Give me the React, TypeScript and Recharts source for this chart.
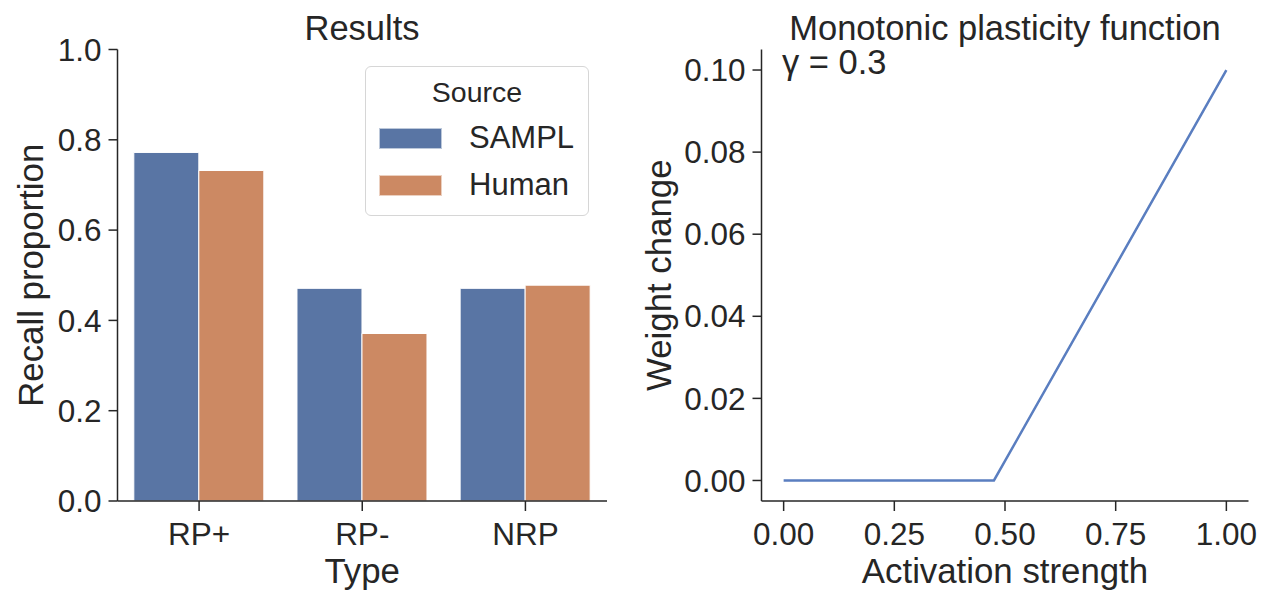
import {
  BarChart,
  Bar,
  LineChart,
  Line,
  XAxis,
  YAxis,
  Legend,
} from "recharts";

const FONT = '"Liberation Sans", Arial, sans-serif';
const INK = "#262626";
const SAMPL_COLOR = "#5975a4";
const HUMAN_COLOR = "#cc8963";
const LINE_COLOR = "#5a7ec0";

// left panel: recall by item type
const types = ["RP+", "RP-", "NRP"];
const samplRecall = [0.772, 0.471, 0.471];
const humanRecall = [0.732, 0.371, 0.478];
const recallTicks = [0, 0.2, 0.4, 0.6, 0.8, 1.0];

// right panel: plasticity curve
const activation = [0, 0.475, 1.0];
const weightChange = [0, 0, 0.1];
const activationTicks = [0, 0.25, 0.5, 0.75, 1.0];
const weightTicks = [0, 0.02, 0.04, 0.06, 0.08, 0.1];

const barData = types.map((t, i) => ({
  type: t,
  SAMPL: samplRecall[i],
  Human: humanRecall[i],
}));

const lineData = activation.map((a, i) => ({ x: a, y: weightChange[i] }));

const tickStyle = { fontSize: 31.5, fill: INK, fontFamily: FONT };
const labelStyle = { fontSize: 34.8, fill: INK, fontFamily: FONT };

function SourceLegend() {
  const items = [
    { name: "SAMPL", color: SAMPL_COLOR, top: 61 },
    { name: "Human", color: HUMAN_COLOR, top: 108 },
  ];
  return (
    <div
      style={{
        position: "relative",
        width: 222,
        height: 148,
        border: "1px solid #d6d6d6",
        borderRadius: 6,
        background: "#fff",
        fontFamily: FONT,
        color: INK,
      }}
    >
      <div
        style={{
          position: "absolute",
          left: 0,
          width: 222,
          top: 9,
          textAlign: "center",
          fontSize: 28.5,
          lineHeight: "32px",
        }}
      >
        Source
      </div>
      {items.map((it) => (
        <div key={it.name}>
          <div
            style={{
              position: "absolute",
              left: 13,
              top: it.top,
              width: 63,
              height: 21,
              background: it.color,
              boxSizing: "border-box",
              border: "1px solid rgba(255,255,255,0.6)",
            }}
          />
          <div
            style={{
              position: "absolute",
              left: 103,
              top: it.top - 8,
              fontSize: 31,
              lineHeight: "35px",
            }}
          >
            {it.name}
          </div>
        </div>
      ))}
    </div>
  );
}

export default function App() {
  return (
    <div
      style={{
        position: "absolute",
        left: 0,
        top: 0,
        width: 1269,
        height: 592,
        background: "#fff",
        fontFamily: FONT,
      }}
    >
      <div style={{ position: "absolute", left: 0, top: 0 }}>
        <BarChart
          width={640}
          height={592}
          data={barData}
          margin={{ top: 49.5, right: 33, bottom: 0, left: 0 }}
          barCategoryGap="10%"
          barGap={0}
        >
          <XAxis
            dataKey="type"
            height={91}
            stroke={INK}
            strokeWidth={1.5}
            tickSize={10}
            tickMargin={12}
            tick={tickStyle}
            label={{ value: "Type", position: "insideBottom", offset: 9, style: labelStyle }}
          />
          <YAxis
            width={117.5}
            domain={[0, 1]}
            ticks={recallTicks}
            tickFormatter={(v: number) => v.toFixed(1)}
            stroke={INK}
            strokeWidth={1.5}
            tickSize={9}
            tickMargin={7}
            tick={tickStyle}
            label={{
              value: "Recall proportion",
              angle: -90,
              position: "insideLeft",
              offset: 31,
              textAnchor: "middle",
              style: labelStyle,
            }}
          />
          <Legend
            layout="vertical"
            align="center"
            verticalAlign="middle"
            wrapperStyle={{ left: 365, top: 66, width: 224 }}
            content={() => <SourceLegend />}
          />
          <Bar dataKey="SAMPL" fill={SAMPL_COLOR} stroke="#fff" strokeWidth={1} isAnimationActive={false} />
          <Bar dataKey="Human" fill={HUMAN_COLOR} stroke="#fff" strokeWidth={1} isAnimationActive={false} />
        </BarChart>
      </div>

      <div style={{ position: "absolute", left: 640, top: 0 }}>
        <LineChart
          width={629}
          height={592}
          data={lineData}
          margin={{ top: 49.5, right: 20.5, bottom: 0, left: 0 }}
        >
          <XAxis
            dataKey="x"
            type="number"
            domain={[-0.05, 1.05]}
            allowDataOverflow
            ticks={activationTicks}
            tickFormatter={(v: number) => v.toFixed(2)}
            height={91}
            stroke={INK}
            strokeWidth={1.5}
            tickSize={10}
            tickMargin={12}
            tick={tickStyle}
            label={{ value: "Activation strength", position: "insideBottom", offset: 9, style: labelStyle }}
          />
          <YAxis
            type="number"
            domain={[-0.005, 0.105]}
            allowDataOverflow
            ticks={weightTicks}
            tickFormatter={(v: number) => v.toFixed(2)}
            width={121.5}
            stroke={INK}
            strokeWidth={1.5}
            tickSize={9}
            tickMargin={7}
            tick={tickStyle}
            label={{
              value: "Weight change",
              angle: -90,
              position: "insideLeft",
              offset: 19,
              textAnchor: "middle",
              style: labelStyle,
            }}
          />
          <Line
            dataKey="y"
            stroke={LINE_COLOR}
            strokeWidth={2.5}
            dot={false}
            isAnimationActive={false}
          />
        </LineChart>
      </div>

      <svg
        width={1269}
        height={592}
        style={{ position: "absolute", left: 0, top: 0, pointerEvents: "none" }}
      >
        <text x={362} y={40} textAnchor="middle" fontSize={34.5} fill={INK} fontFamily={FONT}>
          Results
        </text>
        <text x={1005} y={40} textAnchor="middle" fontSize={34.5} fill={INK} fontFamily={FONT}>
          Monotonic plasticity function
        </text>
        <text x={782} y={74} fontSize={34.5} fill={INK} fontFamily={FONT}>
          γ = 0.3
        </text>
      </svg>
    </div>
  );
}
